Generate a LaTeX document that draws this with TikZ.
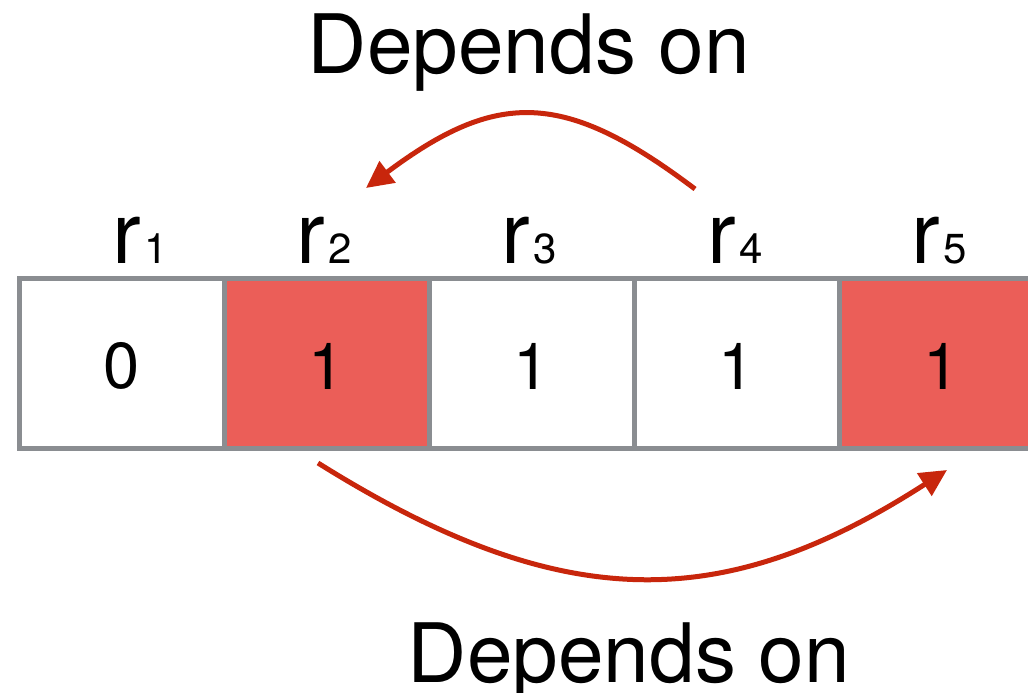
\documentclass[tikz,border=0pt]{standalone}
\usepackage{fontspec}
\setmainfont{TeX Gyre Heros}
\usetikzlibrary{arrows.meta}
\definecolor{cellred}{HTML}{EB5E58}
\definecolor{gridgrey}{HTML}{8A8D91}
\definecolor{arrowred}{HTML}{C8260C}
\newcommand\rlab[1]{{\fontsize{86}{90}\selectfont r}\kern3pt{\fontsize{42}{44}\selectfont #1}}
\begin{document}
\begin{tikzpicture}[x=1pt,y=-1pt,
  cell/.style={draw=gridgrey,line width=5.5pt,minimum width=205pt,minimum height=170pt,inner sep=0pt},
  redcell/.style={cell,fill=cellred},
  digit/.style={inner sep=0pt,font=\fontsize{65}{70}\selectfont},
  lbl/.style={anchor=base,inner sep=0pt},
  deptext/.style={anchor=base,inner sep=0pt,font=\fontsize{82}{90}\selectfont},
  dep/.style={draw=arrowred,line width=5pt,-{Triangle[length=27pt,width=26pt]}}]
\useasboundingbox (0,0) rectangle (1028,693);
\clip (0,0) rectangle (1028,693);
\fill[white] (0,0) rectangle (1028,693);
% cells
\node[cell] (c1) at (122,363.5) {};
\node[redcell] (c2) at (327,363.5) {};
\node[cell] (c3) at (532,363.5) {};
\node[cell] (c4) at (737,363.5) {};
\node[redcell] (c5) at (942,363.5) {};
% digits
\node[digit] (d1) at ([yshift=-2.5pt]c1.center) {0};
\node[digit] (d2) at ([yshift=-2.5pt]c2.center) {1};
\node[digit] (d3) at ([yshift=-2.5pt]c3.center) {1};
\node[digit] (d4) at ([yshift=-2.5pt]c4.center) {1};
\node[digit] (d5) at ([yshift=-2.5pt]c5.center) {1};
% labels
\node[lbl] (r1) at (140,263) {\rlab{1}};
\node[lbl] (r2) at (324,263) {\rlab{2}};
\node[lbl] (r3) at (529,263) {\rlab{3}};
\node[lbl] (r4) at (735,263) {\rlab{4}};
\node[lbl] (r5) at (939,263) {\rlab{5}};
% texts
\node[deptext] (t1) at (529,74) {Depends on};
\node[deptext] (t2) at (629,682) {Depends on};
% arrows
\coordinate (a1s) at (695,189);
\coordinate (a1e) at (366,188);
\coordinate (a2s) at (318,463);
\coordinate (a2e) at (947,470);
\draw[dep] (a1s) .. controls (564,90) and (497,90) .. (a1e);
\draw[dep] (a2s) .. controls (561,615) and (722,615) .. (a2e);
\end{tikzpicture}
\end{document}
